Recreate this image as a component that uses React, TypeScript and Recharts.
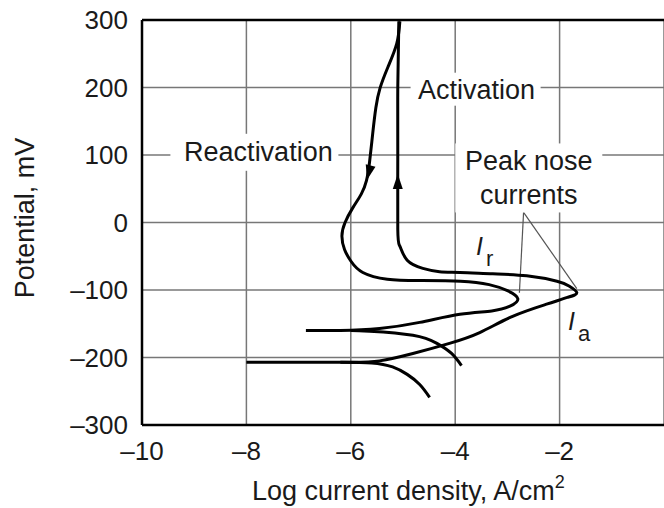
import React from 'react';
import { LineChart, Line, XAxis, YAxis, CartesianGrid, ReferenceLine, ReferenceDot, Label } from 'recharts';

const FONT = '"Liberation Sans", Arial, Helvetica, sans-serif';
const INK = '#1a1a1a';

const xTicks = [-10, -8, -6, -4, -2];
const yTicks = [-300, -200, -100, 0, 100, 200, 300];

// Activation sweep: Ecorr line, anodic branch to nose Ia, passive vertical rise
const activation = [
  { x: -8.0, y: -207 }, { x: -7.0, y: -207 }, { x: -6.0, y: -207 }, { x: -5.45, y: -205 },
  { x: -4.81, y: -194 }, { x: -4.11, y: -179 }, { x: -3.53, y: -163 }, { x: -2.9, y: -139 },
  { x: -2.25, y: -121 }, { x: -1.85, y: -111 }, { x: -1.67, y: -104 }, { x: -1.82, y: -94 },
  { x: -2.05, y: -87 }, { x: -2.63, y: -79 }, { x: -3.28, y: -76 }, { x: -3.91, y: -74 },
  { x: -4.3, y: -73 }, { x: -4.62, y: -68 }, { x: -4.92, y: -56 }, { x: -5.06, y: -35 },
  { x: -5.1, y: -10 }, { x: -5.1, y: 100 }, { x: -5.1, y: 200 }, { x: -5.08, y: 298 },
];
const activationCathodic = [
  { x: -6.2, y: -207 }, { x: -5.6, y: -208 }, { x: -5.2, y: -214 }, { x: -4.92, y: -225 },
  { x: -4.68, y: -240 }, { x: -4.49, y: -259 },
];
// Reactivation sweep: from top, loop, nose Ir, back to Ecorr line
const reactivation = [
  { x: -5.06, y: 298 }, { x: -5.12, y: 265 }, { x: -5.29, y: 230 }, { x: -5.44, y: 199 },
  { x: -5.52, y: 170 }, { x: -5.58, y: 132 }, { x: -5.64, y: 90 }, { x: -5.7, y: 62 },
  { x: -5.8, y: 42 }, { x: -5.96, y: 22 }, { x: -6.11, y: 0 }, { x: -6.17, y: -20 },
  { x: -6.12, y: -40 }, { x: -6.0, y: -57 }, { x: -5.77, y: -74 }, { x: -5.3, y: -84 },
  { x: -4.7, y: -86 }, { x: -3.9, y: -87 }, { x: -3.35, y: -92 }, { x: -3.0, y: -101 },
  { x: -2.8, y: -113 }, { x: -2.95, y: -124 }, { x: -3.3, y: -131 }, { x: -3.91, y: -136 },
  { x: -4.68, y: -148 }, { x: -5.45, y: -157 }, { x: -6.2, y: -160 }, { x: -6.86, y: -160 },
];
const reactivationCathodic = [
  { x: -6.0, y: -160 }, { x: -5.64, y: -161 }, { x: -4.81, y: -167 }, { x: -4.35, y: -179 },
  { x: -4.07, y: -194 }, { x: -3.88, y: -212 },
];

const arrowUp = { x: -5.1, y: 72 };
const arrowDown = { x: -5.69, y: 63 };

const notes = [
  { x: -7.77, y: 104, lines: ['Reactivation'] },
  { x: -3.59, y: 196, lines: ['Activation'] },
  { x: -2.59, y: 66, lines: ['Peak nose', 'currents'] },
];
const noteBoxes = [
  { w: 168, h: 37, dx: -4, dy: 0 },
  { w: 130, h: 33, dx: -1, dy: -1 },
  { w: 147, h: 69, dx: 0, dy: 0 },
];

const leaderApex = { x: -2.69, y: 15 };
const leaderIr = { x: -2.77, y: -104 };
const leaderIa = { x: -1.67, y: -98 };

const irLabel = { x: -3.6, y: -48, main: 'I', sub: 'r' };
const iaLabel = { x: -1.84, y: -159, main: 'I', sub: 'a' };

const fmt = (v: number) => (v < 0 ? '\u2013' + Math.abs(v) : String(v));

const XTitle = () => (
  <text x={252} y={500} fontSize={27} fontFamily={FONT} fill={INK}>
    Log current density, A/cm
    <tspan fontSize={18} dy={-12}>2</tspan>
  </text>
);
const YTitle = () => (
  <text x={25} y={218} fontSize={27} fontFamily={FONT} fill={INK} textAnchor="middle"
    dominantBaseline="central" transform="rotate(-90, 25, 218)">
    Potential, mV
  </text>
);

const curveProps = {
  type: 'natural' as const,
  dataKey: 'y',
  stroke: '#000',
  strokeWidth: 3,
  dot: false,
  activeDot: false,
  isAnimationActive: false,
};

export default function App() {
  return (
    <div style={{ position: 'absolute', left: 0, top: 0, width: 664, height: 508, background: '#fff' }}>
      <LineChart width={664} height={508} margin={{ top: 20, right: 0, bottom: 0, left: 0 }}>
        <CartesianGrid stroke="#777" strokeWidth={1.5} />
        <XAxis type="number" dataKey="x" domain={[-10, 0]} ticks={xTicks} interval={0}
          allowDataOverflow tickFormatter={fmt} tickLine={false} tickSize={0} tickMargin={17}
          axisLine={{ stroke: '#000', strokeWidth: 2.5 }} height={83}
          tick={{ fontSize: 26, fontFamily: FONT, fill: INK }}>
          <Label content={XTitle} />
        </XAxis>
        <YAxis type="number" domain={[-300, 300]} ticks={yTicks} interval={0} allowDataOverflow
          tickFormatter={fmt} tickLine={false} tickSize={0} tickMargin={14} width={142}
          axisLine={{ stroke: '#000', strokeWidth: 2.5 }}
          tick={{ fontSize: 26, fontFamily: FONT, fill: INK }}>
          <Label content={YTitle} />
        </YAxis>
        <ReferenceLine y={300} stroke="#000" strokeWidth={2.5} />

        {notes.map((n, i) => (
          <ReferenceDot key={'n' + i} x={n.x} y={n.y} r={0}
            shape={(p: any) => {
              const b = noteBoxes[i];
              return (
                <g>
                  <rect x={p.cx - b.w / 2 + b.dx} y={p.cy - b.h / 2 + b.dy} width={b.w} height={b.h} fill="#fff" />
                  {n.lines.map((t, k) => (
                    <text key={k} x={p.cx} y={p.cy + (k - (n.lines.length - 1) / 2) * 34}
                      textAnchor="middle" dominantBaseline="central" fontSize={27}
                      fontFamily={FONT} fill={INK}>{t}</text>
                  ))}
                </g>
              );
            }} />
        ))}

        <ReferenceLine segment={[leaderApex, leaderIr]} stroke="#555" strokeWidth={1.2} />
        <ReferenceLine segment={[leaderApex, leaderIa]} stroke="#555" strokeWidth={1.2} />

        <Line data={activation} {...curveProps} />
        <Line data={activationCathodic} {...curveProps} />
        <Line data={reactivation} {...curveProps} />
        <Line data={reactivationCathodic} {...curveProps} />

        <ReferenceDot x={arrowUp.x} y={arrowUp.y} r={0}
          shape={(p: any) => (
            <polygon points={`${p.cx},${p.cy} ${p.cx - 5},${p.cy + 15} ${p.cx + 5},${p.cy + 15}`} fill="#000" />
          )} />
        <ReferenceDot x={arrowDown.x} y={arrowDown.y} r={0}
          shape={(p: any) => (
            <polygon points={`${p.cx},${p.cy} ${p.cx - 5},${p.cy - 15} ${p.cx + 5},${p.cy - 15}`} fill="#000"
              transform={`rotate(14, ${p.cx}, ${p.cy})`} />
          )} />

        {[irLabel, iaLabel].map((l, i) => (
          <ReferenceDot key={'l' + i} x={l.x} y={l.y} r={0}
            shape={(p: any) => (
              <text x={p.cx} y={p.cy} fontSize={25} fontFamily={FONT} fill={INK}>
                <tspan fontStyle="italic">{l.main}</tspan>
                <tspan dx={3} dy={11} fontSize={22}>{l.sub}</tspan>
              </text>
            )} />
        ))}
      </LineChart>
    </div>
  );
}
